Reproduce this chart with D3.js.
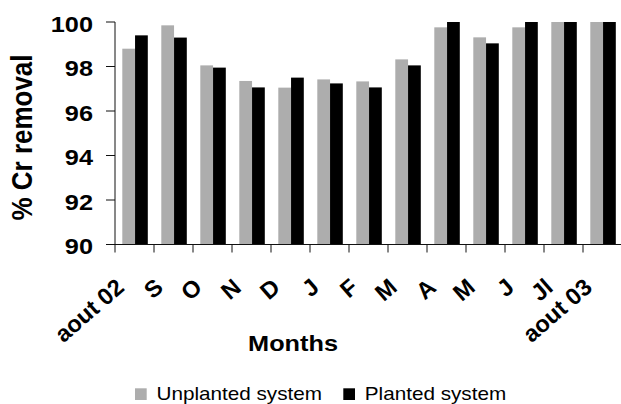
<!DOCTYPE html>
<html>
<head>
<meta charset="utf-8">
<script src="https://cdn.jsdelivr.net/npm/d3@7"></script>
<style>
  body { margin: 0; background: #fff; }
  text { font-family: "Liberation Sans", Arial, sans-serif; fill: #000; }
</style>
</head>
<body>
<div id="chart"></div>
<script>
//data
const months = ["aout 02", "S", "O", "N", "D", "J", "F", "M", "A", "M", "J", "Jl", "aout 03"];
const unplanted = [98.8, 99.85, 98.05, 97.35, 97.05, 97.42, 97.33, 98.32, 99.76, 99.31, 99.76, 100, 100];
const planted = [99.4, 99.3, 97.95, 97.06, 97.5, 97.24, 97.06, 98.05, 100, 99.04, 100, 100, 100];
const yTicks = [90, 92, 94, 96, 98, 100];
const seriesNames = ["Unplanted system", "Planted system"];
const seriesColors = ["#adadad", "#000000"];

const w = 621;
const h = 404;
//the original picture is a bit stretched sideways, so text gets stretched too
const stretch = 1.15;

const svg = d3.select("#chart").
append("svg").
attr("width", w).
attr("height", h);

//month index as domain because "M" and "J" show up twice
const xScale = d3.scaleBand().
domain(d3.range(months.length)).
range([115, 622]).
padding(0);

const xInner = d3.scaleBand().
domain([0, 1]).
range([7.3, 32.8]).
padding(0);

const yScale = d3.scaleLinear().
domain([90, 100]).
range([244.5, 22]);

//bars
const groups = svg.selectAll(".month").
data(months.map((m, i) => ({ i: i, vals: [unplanted[i], planted[i]] }))).
enter().
append("g").
attr("class", "month").
attr("transform", d => "translate(" + xScale(d.i) + ",0)");

groups.selectAll("rect").
data(d => d.vals.map((v, s) => ({ s: s, v: v }))).
enter().
append("rect").
attr("x", d => xInner(d.s)).
attr("width", xInner.bandwidth()).
attr("y", d => yScale(d.v)).
attr("height", d => yScale(90) - yScale(d.v)).
attr("fill", d => seriesColors[d.s]);

//y axis: line, ticks and labels
const yAxis = svg.append("g");
yAxis.append("line").
attr("x1", 115).attr("x2", 115).
attr("y1", yScale(100)).attr("y2", yScale(90)).
attr("stroke", "#111").attr("stroke-width", 1);

yAxis.selectAll(".ytick").
data(yTicks).
enter().
append("line").
attr("x1", 106).attr("x2", 115).
attr("y1", d => yScale(d)).attr("y2", d => yScale(d)).
attr("stroke", "#111").attr("stroke-width", 1);

yAxis.selectAll(".ylab").
data(yTicks).
enter().
append("text").
attr("transform", d => "translate(93," + (yScale(d) + 9.5) + ") scale(" + stretch + ",1)").
attr("text-anchor", "end").
attr("font-size", 22).
attr("font-weight", "bold").
text(d => d);

//x axis: line and ticks between months
const xAxis = svg.append("g");
xAxis.append("line").
attr("x1", 106).attr("x2", 622).
attr("y1", yScale(90)).attr("y2", yScale(90)).
attr("stroke", "#111").attr("stroke-width", 1);

xAxis.selectAll(".xtick").
data(d3.range(months.length)).
enter().
append("line").
attr("x1", d => xScale(d)).attr("x2", d => xScale(d)).
attr("y1", yScale(90)).attr("y2", yScale(90) + 8).
attr("stroke", "#111").attr("stroke-width", 1);

//month labels, 45 degrees stretched sideways is about 41 degrees
xAxis.selectAll(".xlab").
data(months).
enter().
append("text").
attr("class", "xlab").
attr("transform", (d, i) => "translate(" + (xScale(i) + xScale.bandwidth() / 2 - 9) + ",289.5) rotate(-41)").
attr("text-anchor", "end").
attr("font-size", 23.5).
attr("font-weight", "bold").
text(d => d);

//axis titles
svg.append("text").
attr("transform", "translate(32,137.5) scale(" + stretch + ",1) rotate(-90)").
attr("text-anchor", "middle").
attr("font-size", 26).
attr("font-weight", "bold").
text("% Cr removal");

svg.append("text").
attr("transform", "translate(293,350.7) scale(" + stretch + ",1)").
attr("text-anchor", "middle").
attr("font-size", 22).
attr("font-weight", "bold").
text("Months");

//legend
const legendX = [135, 343.3];
const legend = svg.selectAll(".legend").
data(seriesNames).
enter().
append("g").
attr("class", "legend").
attr("transform", (d, i) => "translate(" + legendX[i] + ",388.3)");

legend.append("rect").
attr("width", 11.7).
attr("height", 11.7).
attr("fill", (d, i) => seriesColors[i]);

legend.append("text").
attr("transform", "translate(21.5,11.3) scale(" + stretch + ",1)").
attr("font-size", 18).
text(d => d);
</script>
</body>
</html>
